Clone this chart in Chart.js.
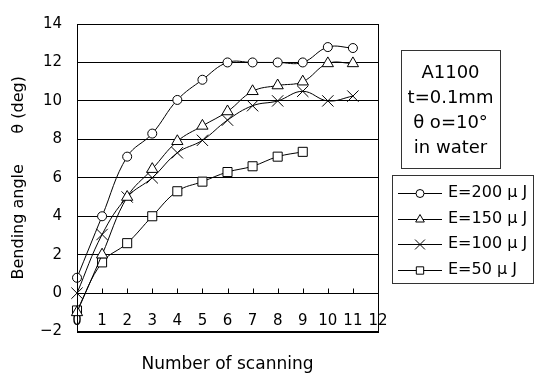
<!DOCTYPE html>
<html><head><meta charset="utf-8">
<script src="https://cdn.jsdelivr.net/npm/chart.js@4"></script>
<style>html,body{margin:0;padding:0;background:#fff;} #wrap{width:539px;height:378px;position:relative;}</style>
</head><body><div id="wrap"><canvas id="c" width="539" height="378"></canvas></div>
<script>
const scans = [0,1,2,3,4,5,6,7,8,9,10,11];
const e200 = [0.8,4.0,7.1,8.3,10.05,11.1,12.0,12.0,12.0,12.0,12.8,12.75];
const e150 = [-1.0,2.0,5.0,6.45,7.9,8.7,9.45,10.5,10.8,11.0,11.95,11.95];
const e100 = [0.0,3.05,5.0,6.0,7.3,7.95,9.0,9.75,10.0,10.5,10.0,10.25];
const e50  = [-0.9,1.6,2.6,4.0,5.3,5.8,6.3,6.6,7.1,7.35];
const seriesLabels = ['E=200 μ J','E=150 μ J','E=100 μ J','E=50 μ J'];
const pointStyles = ['circle','triangle','crossRot','rect'];
const infoLines = ['A1100','t=0.1mm','θ o=10°','in water'];
const xTitle = 'Number of scanning';
const yTitle = 'Bending angle      θ (deg)';

const FONT = '"DejaVu Sans", "Noto Sans CJK JP", sans-serif';
const radii = [4.5, 6.5, 8, 6.4];
const legendRadii = [4, 5, 7, 5.2];

function pts(arr){ return arr.map((v,i)=>({x: scans[i], y: v})); }
const series = [e200, e150, e100, e50];

const datasets = series.map((arr,i)=>({
  label: seriesLabels[i],
  data: pts(arr),
  borderColor: '#000',
  borderWidth: 1,
  backgroundColor: '#fff',
  pointStyle: pointStyles[i],
  pointRadius: radii[i],
  pointHoverRadius: radii[i],
  pointBackgroundColor: '#fff',
  pointBorderColor: '#000',
  pointBorderWidth: 1,
  tension: 0.4,
  clip: false,
  legendRadius: legendRadii[i]
}));

const framePlugin = {
  id: 'frame',
  beforeDatasetsDraw(chart){
    const ctx = chart.ctx, xs = chart.scales.x, ys = chart.scales.y;
    const y0 = Math.round(ys.getPixelForValue(0)) + 0.5;
    ctx.save();
    ctx.strokeStyle = '#000'; ctx.lineWidth = 1;
    ctx.beginPath();
    xs.ticks.forEach(t=>{
      if (t.value <= xs.min || t.value >= xs.max) return;
      const px = Math.round(xs.getPixelForValue(t.value)) + 0.5;
      ctx.moveTo(px, y0); ctx.lineTo(px, y0 - 5);
    });
    ctx.stroke();
    ctx.restore();
  },
  afterDraw(chart){
    const ctx = chart.ctx, a = chart.chartArea;
    ctx.save();
    ctx.strokeStyle = '#000'; ctx.lineWidth = 1;
    ctx.strokeRect(Math.round(a.left)+0.5, Math.round(a.top)+0.5, Math.round(a.right-a.left), Math.round(a.bottom-a.top));
    // info box
    ctx.strokeStyle = '#333';
    ctx.strokeRect(401.5, 50.5, 99, 118);
    ctx.fillStyle = '#000';
    ctx.font = '18px ' + FONT;
    ctx.textAlign = 'center'; ctx.textBaseline = 'alphabetic';
    const baselines = [78, 103, 128, 153];
    infoLines.forEach((t,i)=>ctx.fillText(t, 450.5, baselines[i]));
    // legend box
    ctx.strokeStyle = '#333';
    ctx.strokeRect(392.5, 175.5, 141, 108);
    ctx.font = '16px ' + FONT;
    ctx.textAlign = 'left'; ctx.textBaseline = 'middle';
    const ys = [193, 218.7, 244.3, 270];
    chart.data.datasets.forEach((ds,i)=>{
      const y = Math.round(ys[i]) + 0.5;
      ctx.strokeStyle = '#000'; ctx.lineWidth = 1;
      ctx.beginPath(); ctx.moveTo(398, y); ctx.lineTo(442, y); ctx.stroke();
      ctx.fillStyle = '#fff';
      Chart.helpers.drawPoint(ctx, {pointStyle: ds.pointStyle, radius: ds.legendRadius, borderWidth: 1, rotation: 0}, 420, y);
      ctx.fillStyle = '#000';
      ctx.fillText(ds.label, 448, ys[i]);
    });
    ctx.restore();
  }
};

new Chart(document.getElementById('c'), {
  type: 'line',
  data: { datasets },
  options: {
    responsive: false,
    animation: false,
    devicePixelRatio: 1,
    layout: { padding: { left: 0, right: 161, top: 15, bottom: 0 } },
    plugins: {
      legend: { display: false },
      tooltip: { enabled: false },
      title: {
        display: true, position: 'bottom', text: xTitle, fullSize: false,
        color: '#000', font: { family: FONT, size: 17, weight: 'normal' },
        padding: { top: 23, bottom: 3 }
      }
    },
    scales: {
      x: {
        type: 'linear', position: { y: 0 }, min: 0, max: 12,
        afterFit(s){ s.height = 0; },
        ticks: { stepSize: 1, color: '#000', font: { family: FONT, size: 15 }, padding: 19, maxRotation: 0, autoSkip: false },
        grid: { display: false, drawOnChartArea: false, drawTicks: false },
        border: { display: true, color: '#000', width: 1 }
      },
      y: {
        type: 'linear', position: 'left', min: -2, max: 14,
        afterFit(s){ s.width = 77; },
        ticks: { stepSize: 2, color: '#000', font: { family: FONT, size: 15 }, padding: 15,
          callback: v => String(v).replace('-', '−') },
        grid: { color: '#000', lineWidth: 1, drawTicks: false },
        border: { display: true, color: '#000', width: 1 },
        title: { display: true, text: yTitle, color: '#000', font: { family: FONT, size: 16 }, padding: { top: 9, bottom: 0 } }
      }
    }
  },
  plugins: [framePlugin]
});
</script>
</body></html>
